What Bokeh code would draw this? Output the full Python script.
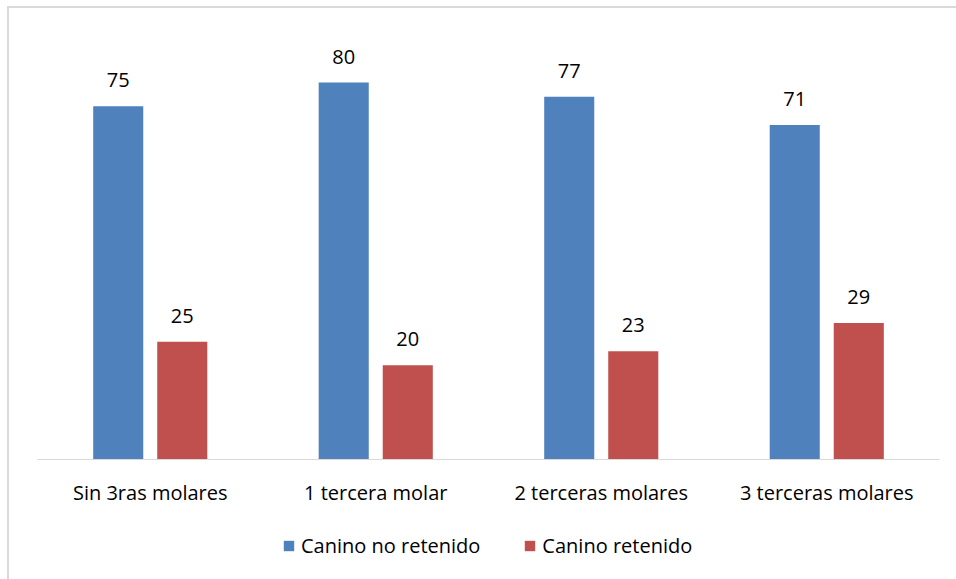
from bokeh.plotting import figure
from bokeh.layouts import column
from bokeh.models import ColumnDataSource, FactorRange, Legend, LegendItem, Range1d
from bokeh.transform import dodge
from bokeh.core.properties import value
from bokeh.embed import file_html
from bokeh.resources import INLINE

categories = ["Sin 3ras molares", "1 tercera molar", "2 terceras molares", "3 terceras molares"]
no_retenido = [75, 80, 77, 71]
retenido = [25, 20, 23, 29]
series_names = ["Canino no retenido", "Canino retenido"]
colors = ["#4F81BD", "#C0504D"]

FONT = "Open Sans"
FS = "20px"

src = ColumnDataSource(dict(
    cat=categories,
    a=no_retenido,
    b=retenido,
    la=[str(v) for v in no_retenido],
    lb=[str(v) for v in retenido],
))

p = figure(
    x_range=FactorRange(*categories, range_padding=0),
    y_range=Range1d(0, 90),
    width=947, height=507,
    output_backend="svg", toolbar_location=None,
    y_axis_location=None,
    min_border_left=28, min_border_right=17, min_border_top=27, min_border_bottom=56,
)
p.grid.visible = False
p.outline_line_color = None
p.background_fill_color = "white"
p.border_fill_color = "white"

off = 0.142
w = 0.222
r1 = p.vbar(x=dodge("cat", -off, range=p.x_range), top="a", width=w, source=src,
            fill_color=colors[0], line_color=None)
r2 = p.vbar(x=dodge("cat", off, range=p.x_range), top="b", width=w, source=src,
            fill_color=colors[1], line_color=None)

for col, lab, dx in (("a", "la", -off), ("b", "lb", off)):
    p.text(x=dodge("cat", dx, range=p.x_range), y=col, text=lab, source=src,
           text_align="center", text_baseline="bottom", y_offset=-19,
           text_font=value(FONT), text_font_size=FS, text_color="#000000")

p.xaxis.axis_line_color = "#D9D9D9"
p.xaxis.axis_line_width = 1
p.xaxis.major_tick_line_color = None
p.xaxis.minor_tick_line_color = None
p.xaxis.major_label_standoff = 13
p.xaxis.major_label_text_font = FONT
p.xaxis.major_label_text_font_size = FS
p.xaxis.major_label_text_color = "#000000"

# legend strip below the chart
p2 = figure(
    width=947, height=64,
    x_range=Range1d(0, 1), y_range=Range1d(0, 1),
    output_backend="svg", toolbar_location=None,
    x_axis_location=None, y_axis_location=None,
    min_border=0, min_border_left=0, min_border_right=0, min_border_top=0, min_border_bottom=0,
)
p2.grid.visible = False
p2.outline_line_color = None
p2.background_fill_color = "white"
p2.border_fill_color = "white"

leg_items = []
for name, c in zip(series_names, colors):
    # zero-height placeholder bar: only supplies the legend swatch style
    rr = p2.vbar(x=[0.5], top=[0], bottom=[0], width=0, fill_color=c, line_color=None)
    leg_items.append(LegendItem(label=name, renderers=[rr]))

legend = Legend(
    items=leg_items,
    orientation="horizontal", location=(245, 20),
    label_text_font=FONT, label_text_font_size=FS, label_text_color="#000000",
    glyph_width=13, glyph_height=13, label_standoff=6, spacing=43,
    border_line_color=None, background_fill_alpha=0, padding=0, margin=0,
)
p2.add_layout(legend)

layout = column(p, p2, spacing=0)
layout.margin = (6, 0, 0, 7)
layout.styles = {"border-top": "2px solid #D9D9D9", "border-left": "2px solid #D9D9D9"}

open("out.html", "w").write(file_html(layout, INLINE))
